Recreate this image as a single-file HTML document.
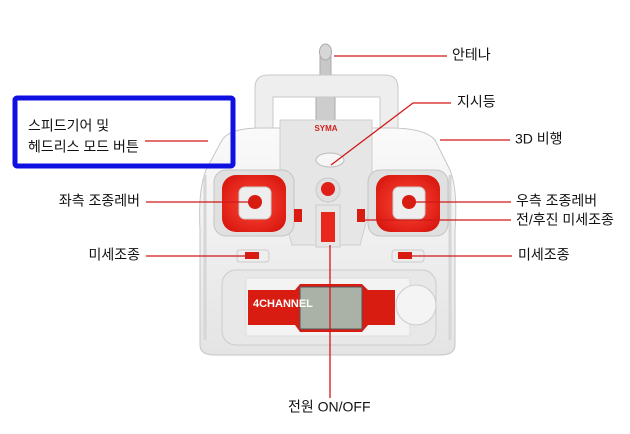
<!DOCTYPE html>
<html><head><meta charset="utf-8"><style>
html,body{margin:0;padding:0;background:#fff;}
svg{display:block}
text{font-family:"Liberation Sans","Noto Sans CJK KR",sans-serif;font-size:14px;fill:#111;dominant-baseline:middle}
</style></head><body>
<svg width="630" height="434" viewBox="0 0 630 434" xmlns="http://www.w3.org/2000/svg">
<defs>
<linearGradient id="body" x1="0" y1="0" x2="0" y2="1"><stop offset="0" stop-color="#fafafa"/><stop offset="1" stop-color="#e4e4e4"/></linearGradient>
<radialGradient id="red" cx="0.5" cy="0.5" r="0.6"><stop offset="0" stop-color="#ff4a3a"/><stop offset="1" stop-color="#d9180f"/></radialGradient>
</defs>
<!-- antenna -->
<rect x="320" y="52" width="11" height="70" rx="4" fill="#c8c8c8" stroke="#aaa"/>
<ellipse cx="325.5" cy="52" rx="6" ry="8" fill="#d6d6d6" stroke="#aaa"/>
<rect x="316" y="85" width="19" height="45" rx="4" fill="#cdcdcd" stroke="#aaa"/>
<!-- handle -->
<path d="M255 140 L255 88 Q255 75 268 75 L385 75 Q398 75 398 88 L398 140 L380 140 L380 97 L273 97 L273 140 Z" fill="#eeeeee" stroke="#c8c8c8"/>
<!-- body -->
<path d="M222 140 Q230 128 260 128 L390 128 Q425 128 435 140 L450 170 Q458 190 455 230 L455 345 Q455 355 440 355 L215 355 Q200 355 200 345 L200 230 Q198 190 206 170 Z" fill="url(#body)" stroke="#c6c6c6"/>
<path d="M205 175 L205 340 M450 175 L450 340" stroke="#d6d6d6" stroke-width="3"/>
<path d="M280 120 L372 120 L372 200 L360 245 L292 245 L280 200 Z" fill="#e6e6e6" stroke="#cfcfcf"/>
<text x="326" y="129" text-anchor="middle" style="font-size:8px;font-weight:bold;fill:#d02020">SYMA</text>
<ellipse cx="330" cy="160" rx="14" ry="7" fill="#f6f6f6" stroke="#bbb"/>
<!-- sticks -->
<rect x="214" y="170" width="80" height="66" rx="12" fill="#e0e0e0" stroke="#c4c4c4"/>
<rect x="222" y="175" width="64" height="57" rx="14" fill="url(#red)"/>
<rect x="239" y="187" width="32" height="32" rx="6" fill="#eee" stroke="#ccc"/>
<circle cx="255" cy="202" r="7" fill="#d81c12"/>
<rect x="368" y="170" width="80" height="66" rx="12" fill="#e0e0e0" stroke="#c4c4c4"/>
<rect x="376" y="175" width="64" height="57" rx="14" fill="url(#red)"/>
<rect x="393" y="187" width="32" height="32" rx="6" fill="#eee" stroke="#ccc"/>
<circle cx="409" cy="202" r="7" fill="#d81c12"/>
<!-- center -->
<circle cx="328" cy="190" r="12" fill="#e0e0e0" stroke="#c8c8c8"/>
<circle cx="328" cy="189" r="7" fill="#e02018"/>
<rect x="316" y="205" width="24" height="42" fill="#e6e6e6" stroke="#ccc"/>
<rect x="321" y="212" width="14" height="30" fill="#e8281c"/>
<rect x="294" y="209" width="8" height="13" fill="#d81c12"/>
<rect x="357" y="209" width="8" height="13" fill="#d81c12"/>
<rect x="237" y="250" width="32" height="12" rx="3" fill="#eee" stroke="#ccc"/>
<rect x="245" y="252" width="14" height="7" fill="#d81c12"/>
<rect x="392" y="250" width="32" height="12" rx="3" fill="#eee" stroke="#ccc"/>
<rect x="398" y="252" width="14" height="7" fill="#d81c12"/>
<!-- lower panel -->
<rect x="222" y="270" width="214" height="75" rx="14" fill="#e8e8e8" stroke="#ccc"/>
<rect x="246" y="278" width="164" height="58" fill="#f3f3f3" stroke="#ddd"/>
<path d="M248 290 L295 290 L300 284 L362 284 L368 290 L395 290 L395 325 L368 325 L362 332 L300 332 L295 325 L248 325 Z" fill="#d81c12"/>
<rect x="300" y="287" width="62" height="42" fill="#aab2a8" stroke="#555"/>
<text x="253" y="304" style="font-size:11px;font-weight:bold;fill:#fff">4CHANNEL</text>
<circle cx="416" cy="305" r="20" fill="#f4f4f4" stroke="#ccc"/>
<!-- blue box -->
<rect x="15" y="98" width="218" height="68" fill="none" stroke="#1010e0" stroke-width="5" rx="2"/>
<text x="28" y="127">스피드기어 및</text>
<text x="28" y="148">헤드리스 모드 버튼</text>
<!-- lines -->
<g stroke="#d01818" stroke-width="1.3" fill="none">
<line x1="334" y1="56" x2="447" y2="56"/>
<polyline points="331,165 413,103 451,103"/>
<line x1="440" y1="140" x2="510" y2="140"/>
<line x1="412" y1="202" x2="511" y2="202"/>
<line x1="363" y1="220" x2="511" y2="220"/>
<line x1="410" y1="256" x2="512" y2="256"/>
<line x1="145" y1="141" x2="208" y2="141"/>
<line x1="146" y1="202" x2="252" y2="202"/>
<line x1="146" y1="256" x2="250" y2="256"/>
<line x1="330" y1="245" x2="330" y2="398"/>
</g>
<!-- labels -->
<text x="452" y="56">안테나</text>
<text x="457" y="103">지시등</text>
<text x="515" y="140">3D 비행</text>
<text x="516" y="202">우측 조종레버</text>
<text x="516" y="221">전/후진 미세조종</text>
<text x="518" y="256">미세조종</text>
<text x="140" y="202" text-anchor="end">좌측 조종레버</text>
<text x="140" y="256" text-anchor="end">미세조종</text>
<text x="288" y="408">전원 ON/OFF</text>
</svg>
</body></html>
